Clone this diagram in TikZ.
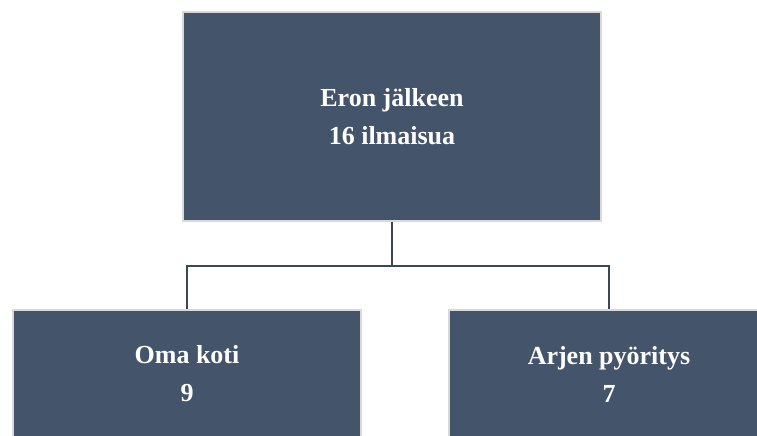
\documentclass[tikz,border=0pt]{standalone}
\usepackage{fontspec}
\setmainfont{Liberation Serif}
\definecolor{boxfill}{HTML}{44546A}
\definecolor{boxedge}{HTML}{D9D9D9}
\definecolor{linecol}{HTML}{3B4658}
\begin{document}
\begin{tikzpicture}[x=1pt,y=1pt,
  orgbox/.style={rectangle, fill=boxfill, draw=boxedge, line width=1.2pt,
    text=white, align=center, inner sep=0pt,
    font=\fontsize{26}{38}\selectfont\bfseries},
  link/.style={draw=linecol, line width=2pt}]
\useasboundingbox (0,0) rectangle (757,436);
\fill[white] (0,0) rectangle (757,436);
\clip (0,0) rectangle (757,436);
\node[orgbox, minimum width=418, minimum height=209] (top) at (392,319.5) {Eron jälkeen\\16 ilmaisua};
\node[orgbox, minimum width=348, minimum height=128] (left) at (187,62) {Oma koti\\9};
\node[orgbox, minimum width=320, minimum height=128] (right) at (609,62) {Arjen pyöritys\\7};
\coordinate (j) at (392,170);
\draw[link] (top.south) -- (j);
\draw[link] (left.north) |- (j) -| (right.north);
\end{tikzpicture}
\end{document}
